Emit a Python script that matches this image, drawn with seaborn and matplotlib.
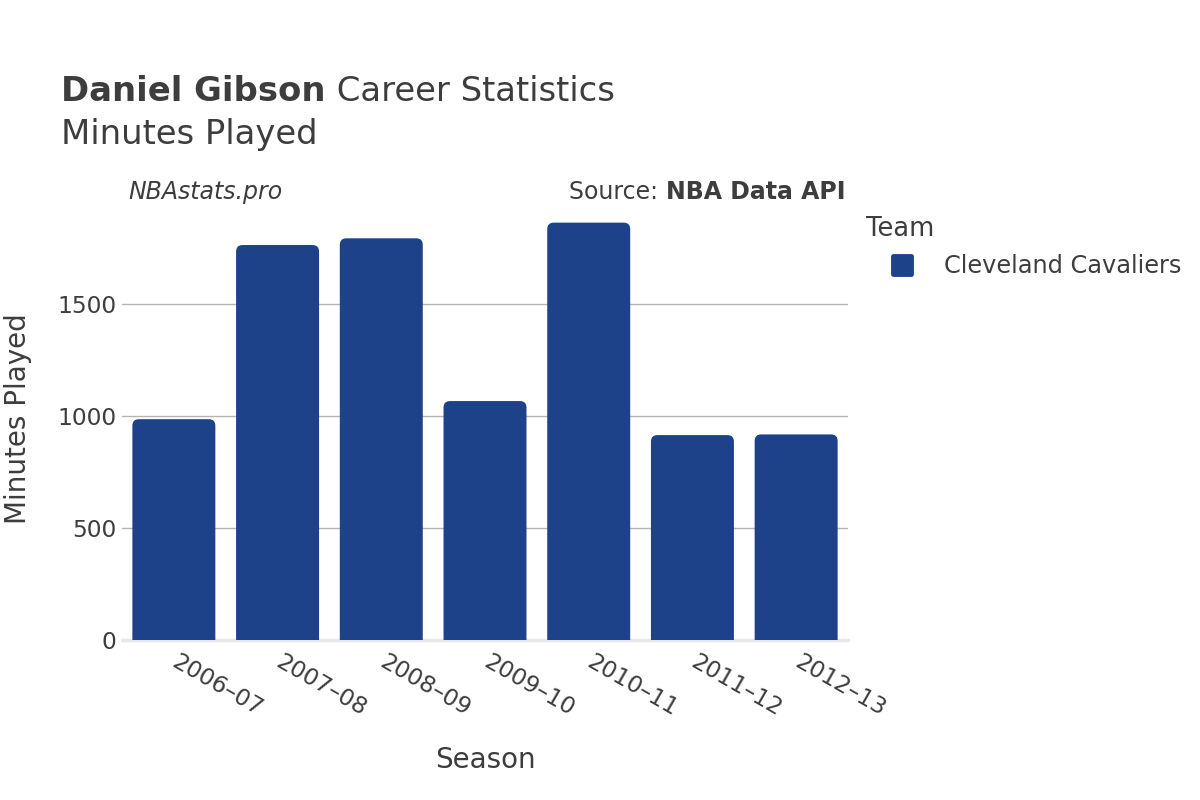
import matplotlib
matplotlib.use('Agg')
import matplotlib.pyplot as plt
import seaborn as sns
import pandas as pd
from matplotlib.patches import FancyBboxPatch
from matplotlib.lines import Line2D
from matplotlib.markers import MarkerStyle

# ---- data ----
seasons = ['2006–07', '2007–08', '2008–09', '2009–10', '2010–11', '2011–12', '2012–13']
minutes = [985, 1763, 1793, 1066, 1863, 914, 917]
teams = ['Cleveland Cavaliers'] * 7
team_colors = {'Cleveland Cavaliers': '#1D428A'}
y_ticks = [0, 500, 1000, 1500]

TEXT = '#3d3d3d'

sns.set_theme(style='white')
plt.rcParams['font.family'] = ['DejaVu Sans']

fig = plt.figure(figsize=(12, 8), dpi=100)
ax = fig.add_axes([122 / 1200, 1 - 639.7 / 800, 726 / 1200, (639.7 - 200.7) / 800])

df = pd.DataFrame({'Season': seasons, 'Minutes': minutes, 'Team': teams})
sns.barplot(data=df, x='Season', y='Minutes', hue='Team', palette=team_colors,
            width=0.8, saturation=1, legend=False, ax=ax, zorder=3)

ax.set_xlim(-0.5, len(seasons) - 0.5)
ax.set_ylim(0, 1961)

# rounded top corners for bars
px_x = ax.transData.transform((1, 0))[0] - ax.transData.transform((0, 0))[0]
px_y = ax.transData.transform((0, 1))[1] - ax.transData.transform((0, 0))[1]
rad = 6.5
rx, ry = rad / px_x, rad / px_y
for p in list(ax.patches):
    x, w, h = p.get_x(), p.get_width(), p.get_height()
    fc = p.get_facecolor()
    p.remove()
    fb = FancyBboxPatch((x, -2 * ry), w, h + 2 * ry,
                        boxstyle=f"round,pad=0,rounding_size={rx}",
                        mutation_aspect=ry / rx, fc=fc, ec='none', zorder=3)
    ax.add_patch(fb)

# grid and zero line
ax.set_yticks(y_ticks)
ax.set_yticklabels([str(v) for v in y_ticks])
ax.yaxis.grid(True, color='#b4b4b4', lw=1)
ax.xaxis.grid(False)
ax.set_axisbelow(True)
ax.axhline(0, color='#e8e8e8', lw=2.5, zorder=2, clip_on=False)
sns.despine(ax=ax, left=True, bottom=True)

ax.tick_params(axis='both', length=0, labelsize=16.8, labelcolor=TEXT)
ax.tick_params(axis='y', pad=4)
ax.tick_params(axis='x', pad=15)
for lab in ax.get_xticklabels():
    lab.set_rotation(-30)
    lab.set_ha('left')
    lab.set_va('center')
    lab.set_rotation_mode('anchor')

# axis labels
ax.set_xlabel('Season', fontsize=20, color=TEXT)
ax.xaxis.set_label_coords(485 / 1200, 1 - 760 / 800, transform=fig.transFigure)
ax.xaxis.label.set_va('center')
ax.set_ylabel('Minutes Played', fontsize=20, color=TEXT)
ax.yaxis.set_label_coords(18 / 1200, 1 - 419 / 800, transform=fig.transFigure)
ax.yaxis.label.set_va('center')
ax.yaxis.label.set_rotation_mode('anchor')

# titles
renderer = fig.canvas.get_renderer()
t1 = fig.text(61 / 1200, 1 - 101 / 800, 'Daniel Gibson', fontsize=24.4, fontweight='bold',
              color=TEXT, va='baseline', ha='left')
x1 = t1.get_window_extent(renderer).x1
fig.text(x1 / 1200, 1 - 101 / 800, ' Career Statistics', fontsize=24.4, color=TEXT,
         va='baseline', ha='left')
fig.text(61 / 1200, 1 - 144 / 800, 'Minutes Played', fontsize=24.4, color=TEXT,
         va='baseline', ha='left')

fig.text(128 / 1200, 1 - 199 / 800, 'NBAstats.pro', fontsize=17, style='italic',
         color=TEXT, va='baseline', ha='left')
s2 = fig.text(845 / 1200, 1 - 199 / 800, 'NBA Data API', fontsize=17, fontweight='bold',
              color=TEXT, va='baseline', ha='right')
sx0 = s2.get_window_extent(renderer).x0
fig.text(sx0 / 1200, 1 - 199 / 800, 'Source: ', fontsize=17, color=TEXT,
         va='baseline', ha='right')

# legend
c = team_colors['Cleveland Cavaliers']
handle = Line2D([], [], linestyle='none', marker=MarkerStyle('s', joinstyle='round'),
                markersize=13, markeredgewidth=3.5, markerfacecolor=c, markeredgecolor=c)
leg = ax.legend(handles=[handle], labels=['Cleveland Cavaliers'], title='Team',
                loc='upper left', bbox_to_anchor=(866 / 1200, 1 - 216 / 800),
                bbox_transform=fig.transFigure, frameon=False, fontsize=17.3,
                title_fontsize=18.5, alignment='left', borderpad=0, borderaxespad=0,
                handlelength=3.0, handletextpad=0.25, labelspacing=0.5, labelcolor=TEXT)
leg.get_title().set_color(TEXT)

fig.savefig('out.png', dpi=100)
